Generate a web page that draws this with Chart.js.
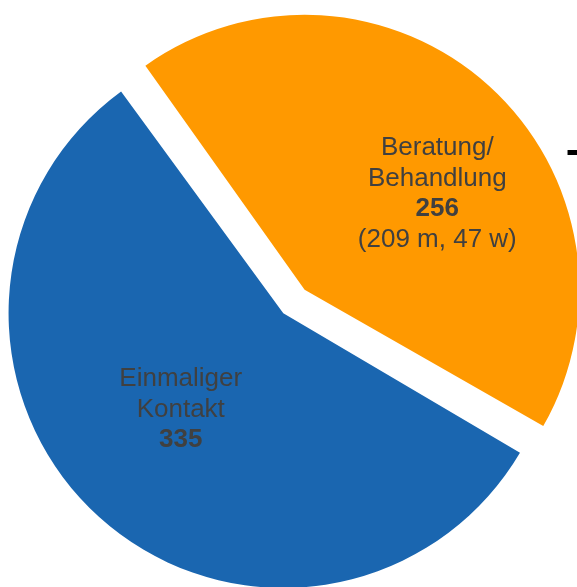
<!DOCTYPE html>
<html lang="de">
<head>
    <meta charset="UTF-8">
    <title>Beratung / Kontakt</title>
    <script src="https://cdn.jsdelivr.net/npm/chart.js"></script>
    <style>
        body { margin: 0; background: #fff; overflow: hidden; }
        #wrap { position: relative; width: 577px; height: 587px; overflow: hidden; }
        #dash {
            position: absolute; left: 566px; top: 124px;
            font: bold 50px "Liberation Sans", Arial, sans-serif;
            line-height: 50px; color: #000; white-space: nowrap;
        }
    </style>
</head>
<body>
    <div id="wrap">
        <canvas id="pieChart" width="577" height="587"></canvas>
        <span id="dash">–</span>
    </div>

    <script>
        // data
        const categories = ['Beratung/\nBehandlung', 'Einmaliger\nKontakt'];
        const counts = [256, 335];
        const subLabels = ['(209 m, 47 w)', ''];
        const sliceColors = ['#ff9900', '#1a66b0'];

        // draws the text inside each slice
        const sliceLabels = {
            id: 'sliceLabels',
            afterDatasetsDraw(chart, args, opts) {
                const ctx = chart.ctx;
                const ds = chart.data.datasets[0];
                const meta = chart.getDatasetMeta(0);
                meta.data.forEach((arc, i) => {
                    const mid = (arc.startAngle + arc.endAngle) / 2;
                    const shift = (ds.offset[i] || 0) / 4;
                    const cx = arc.x + Math.cos(mid) * shift;
                    const cy = arc.y + Math.sin(mid) * shift;
                    const a = mid + opts.angleShift[i] * Math.PI / 180;
                    const r = arc.outerRadius * opts.radius[i];
                    const tx = cx + Math.cos(a) * r;
                    const ty = cy + Math.sin(a) * r;

                    const lines = categories[i].split('\n').map(t => ({ text: t, bold: false }));
                    lines.push({ text: String(counts[i]), bold: true });
                    if (subLabels[i]) lines.push({ text: subLabels[i], bold: false });

                    const n = lines.length;
                    ctx.save();
                    ctx.fillStyle = opts.color;
                    ctx.textAlign = 'center';
                    ctx.textBaseline = 'alphabetic';
                    lines.forEach((ln, k) => {
                        ctx.font = (ln.bold ? 'bold ' : '') + opts.size + 'px "Liberation Sans", Arial, sans-serif';
                        const y = ty + (k - (n - 1) / 2) * opts.lineHeight + opts.size * 0.358;
                        ctx.fillText(ln.text, tx, y);
                    });
                    ctx.restore();
                });
            }
        };

        const pieData = {
            labels: categories,
            datasets: [{
                data: counts,
                backgroundColor: sliceColors,
                borderWidth: 0,
                offset: [80, 47],
                rotation: -35.8,
                radius: 263,
                clip: false
            }]
        };

        const config = {
            type: 'pie',
            data: pieData,
            options: {
                responsive: false,
                animation: false,
                layout: { padding: { left: 5.4, top: 22, right: 0, bottom: 0 } },
                plugins: {
                    legend: { display: false },
                    tooltip: { enabled: false },
                    sliceLabels: {
                        color: '#404040',
                        size: 26,
                        lineHeight: 30.5,
                        radius: [0.627, 0.53],
                        angleShift: [11.4, 5.2]
                    }
                }
            },
            plugins: [sliceLabels]
        };

        new Chart(document.getElementById('pieChart').getContext('2d'), config);
    </script>
</body>
</html>
